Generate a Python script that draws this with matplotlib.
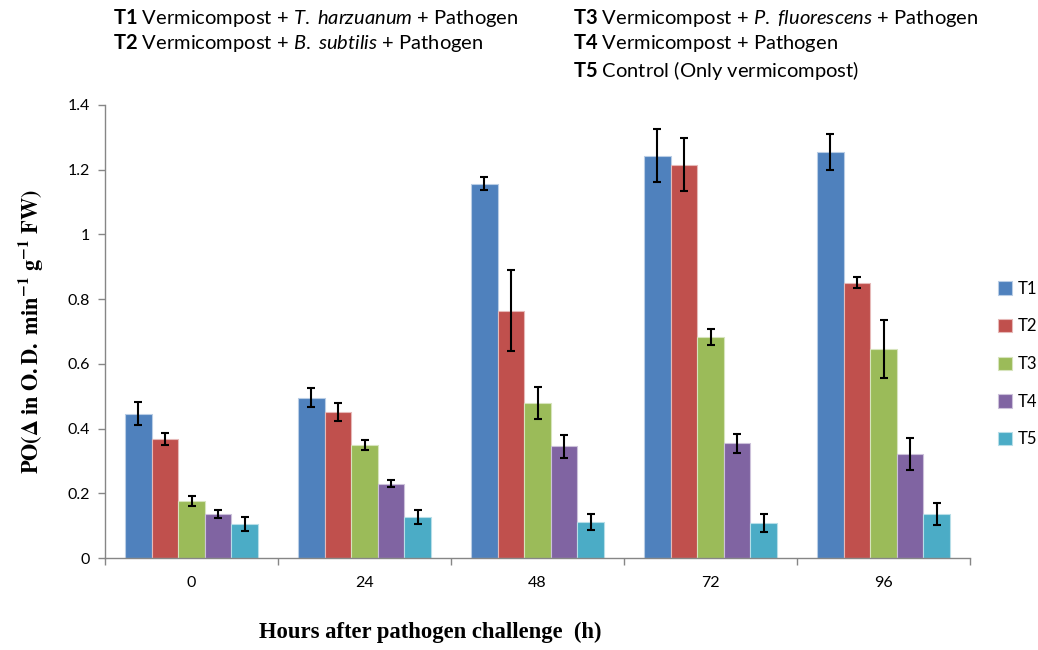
import matplotlib
matplotlib.use("Agg")
import matplotlib.pyplot as plt
import numpy as np

plt.rcParams['font.family'] = ['Lato', 'DejaVu Sans']
plt.rcParams['mathtext.fontset'] = 'custom'
plt.rcParams['mathtext.rm'] = 'Lato'
plt.rcParams['mathtext.bf'] = 'Lato:bold'
plt.rcParams['mathtext.it'] = 'Lato:italic'

categories = ['0', '24', '48', '72', '96']
series = ['T1', 'T2', 'T3', 'T4', 'T5']
t1 = [0.446, 0.496, 1.157, 1.243, 1.254]
t2 = [0.367, 0.450, 0.764, 1.216, 0.851]
t3 = [0.176, 0.350, 0.480, 0.682, 0.646]
t4 = [0.135, 0.230, 0.345, 0.354, 0.321]
t5 = [0.104, 0.127, 0.112, 0.107, 0.135]
e1 = [0.035, 0.030, 0.020, 0.082, 0.056]
e2 = [0.019, 0.028, 0.125, 0.082, 0.016]
e3 = [0.015, 0.016, 0.050, 0.025, 0.091]
e4 = [0.012, 0.012, 0.035, 0.028, 0.050]
e5 = [0.022, 0.021, 0.025, 0.028, 0.034]
values = [t1, t2, t3, t4, t5]
errors = [e1, e2, e3, e4, e5]
colors = ['#4F81BD', '#C0504D', '#9BBB59', '#8064A2', '#4BACC6']
edgecolors = ['#B9CDE5', '#E6B9B8', '#D7E4BD', '#CCC1DA', '#B7DEE8']
yticks = [0, 0.2, 0.4, 0.6, 0.8, 1.0, 1.2, 1.4]
ytick_labels = ['0', '0.2', '0.4', '0.6', '0.8', '1', '1.2', '1.4']

fig = plt.figure(figsize=(10.38, 6.5), dpi=100)
ax = fig.add_axes([105/1038, 92/650, 865/1038, 453/650])

x = np.arange(len(categories))
bw = 0.154
for i, (vals, errs) in enumerate(zip(values, errors)):
    pos = x + (i - 2) * bw
    ax.bar(pos, vals, width=bw, color=colors[i], edgecolor=edgecolors[i],
           linewidth=0.8, label=series[i], zorder=2)
    ax.errorbar(pos, vals, yerr=errs, fmt='none', ecolor='black',
                elinewidth=1.5, capsize=3.2, capthick=1.5, zorder=3)

ax.set_xlim(-0.5, len(categories) - 0.5)
ax.set_ylim(0, 1.4)
ax.set_yticks(yticks)
ax.set_yticklabels(ytick_labels, fontsize=11.5)
ax.set_xticks(x)
ax.set_xticklabels(categories, fontsize=11.5)
ax.set_xticks(np.arange(len(categories) + 1) - 0.5, minor=True)
ax.tick_params(axis='x', which='major', length=0, pad=13)
ax.tick_params(axis='x', which='minor', length=5, color='#868686', width=1)
ax.tick_params(axis='y', length=5, color='#868686', width=1, pad=6)
for s in ['top', 'right']:
    ax.spines[s].set_visible(False)
for s in ['left', 'bottom']:
    ax.spines[s].set_color('#868686')
    ax.spines[s].set_linewidth(1)

ax.set_ylabel(r'$\mathbf{PO(\Delta\ in\ O.D.\ min^{-1}\ g^{-1}\ FW)}$',
              fontsize=16, math_fontfamily='stix', labelpad=16)
fig.text(430/1038, 18/650, 'Hours after pathogen challenge  (h)',
         family='Liberation Serif', fontweight='bold', fontsize=16.3,
         ha='center', va='center')

hdr = 14.5
fig.text(113/1038, 1 - 18/650, r'$\mathbf{T1}$ Vermicompost + $\mathit{T.}$ $\mathit{harzuanum}$ + Pathogen',
         fontsize=hdr, va='center', ha='left')
fig.text(113/1038, 1 - 43/650, r'$\mathbf{T2}$ Vermicompost + $\mathit{B.}$ $\mathit{subtilis}$ + Pathogen',
         fontsize=hdr, va='center', ha='left')
fig.text(573/1038, 1 - 18/650, r'$\mathbf{T3}$ Vermicompost + $\mathit{P.}$ $\mathit{fluorescens}$ + Pathogen',
         fontsize=hdr, va='center', ha='left')
fig.text(573/1038, 1 - 43/650, r'$\mathbf{T4}$ Vermicompost + Pathogen',
         fontsize=hdr, va='center', ha='left')
fig.text(573/1038, 1 - 70/650, r'$\mathbf{T5}$ Control (Only vermicompost)',
         fontsize=hdr, va='center', ha='left')

leg = fig.legend(loc='upper left', bbox_to_anchor=(991/1038, 1 - 274/650),
                 frameon=False, fontsize=12, handlelength=0.85, handleheight=0.85,
                 handletextpad=0.35, labelspacing=1.3, borderaxespad=0)

fig.savefig('out.png', dpi=100)
